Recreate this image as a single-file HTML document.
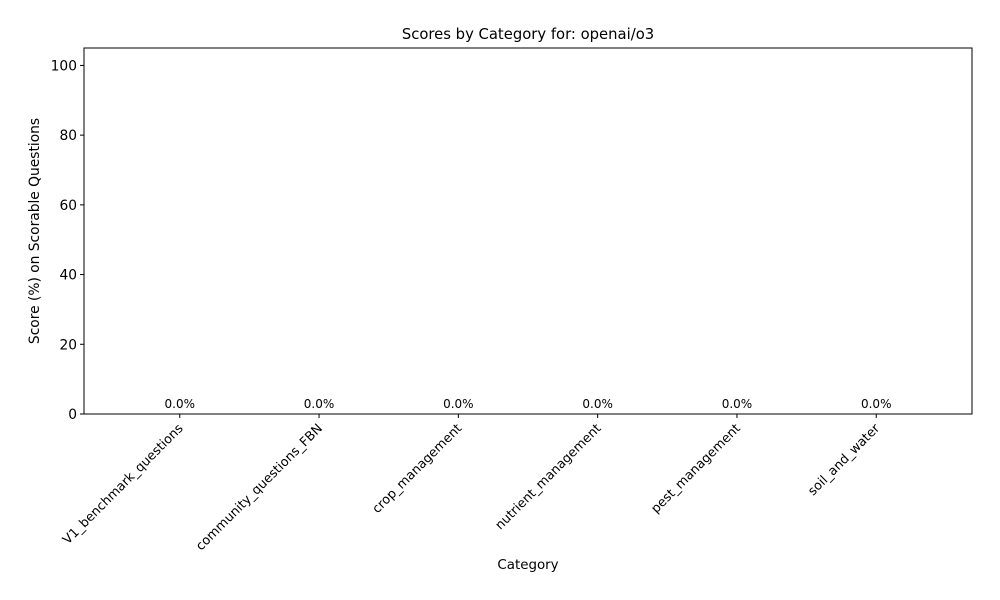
<!DOCTYPE html>
<html><head><meta charset="utf-8"><style>
html,body{margin:0;padding:0;background:#fff;}
svg{display:block;font-family:"DejaVu Sans","Liberation Sans",sans-serif;}
</style></head><body>
<svg id="chart" width="1000" height="600" viewBox="0 0 1000 600" xmlns="http://www.w3.org/2000/svg">
<rect x="0" y="0" width="1000" height="600" fill="#fff"/>
<text x="528" y="39" text-anchor="middle" font-size="14.8">Scores by Category for: openai/o3</text>
<text transform="translate(39,231) rotate(-90)" text-anchor="middle" font-size="13.8">Score (%) on Scorable Questions</text>
<text x="528" y="569" text-anchor="middle" font-size="13.4">Category</text>
<g id="plot"></g>
</svg>
<script>
const categories = ["V1_benchmark_questions","community_questions_FBN","crop_management","nutrient_management","pest_management","soil_and_water"];
const scores = [0,0,0,0,0,0];
const yTicks = [0,20,40,60,80,100];

const L=84,R=972,T=48,B=414;
const yMin=0,yMax=105;
const xMin=-0.6875,xMax=categories.length-1+0.6875;
function xPos(i){return L+(i-xMin)/(xMax-xMin)*(R-L);}
function yPos(v){return B-(v-yMin)/(yMax-yMin)*(B-T);}
const NS="http://www.w3.org/2000/svg";
const g=document.getElementById('plot');
function mk(t,a){const e=document.createElementNS(NS,t);for(const k in a)e.setAttribute(k,a[k]);g.appendChild(e);return e;}

scores.forEach((v,i)=>{
  const w=(xPos(0.4)-xPos(-0.4));
  const b=mk('rect',{x:xPos(i)-w/2,y:yPos(v),width:w,height:Math.max(0,yPos(0)-yPos(v)),fill:'#1f77b4'});
  
  
  const t=mk('text',{x:xPos(i),y:yPos(v)-6,'text-anchor':'middle','font-size':'12'});
  t.textContent=v.toFixed(1)+'%';
  
  
});

const frame=mk('rect',{x:L,y:T,width:R-L,height:B-T,fill:'none',stroke:'#000','stroke-width':1});



yTicks.forEach(v=>{
  const y=yPos(v);
  const tk=mk('line',{x1:L-4,x2:L,y1:y,y2:y,stroke:'#000'});
  
  
  const t=mk('text',{x:L-7,y:y+5,'text-anchor':'end','font-size':'13.8'});
  t.textContent=v;
  
  
});

categories.forEach((c,i)=>{
  const x=xPos(i);
  const tk=mk('line',{x1:x,x2:x,y1:B,y2:B+4,stroke:'#000'});
  
  
  const t=mk('text',{transform:`translate(${x+4},${B+15}) rotate(-45)`,'text-anchor':'end','font-size':'12.8'});
  t.textContent=c;
  
  
});
</script>
</body></html>
